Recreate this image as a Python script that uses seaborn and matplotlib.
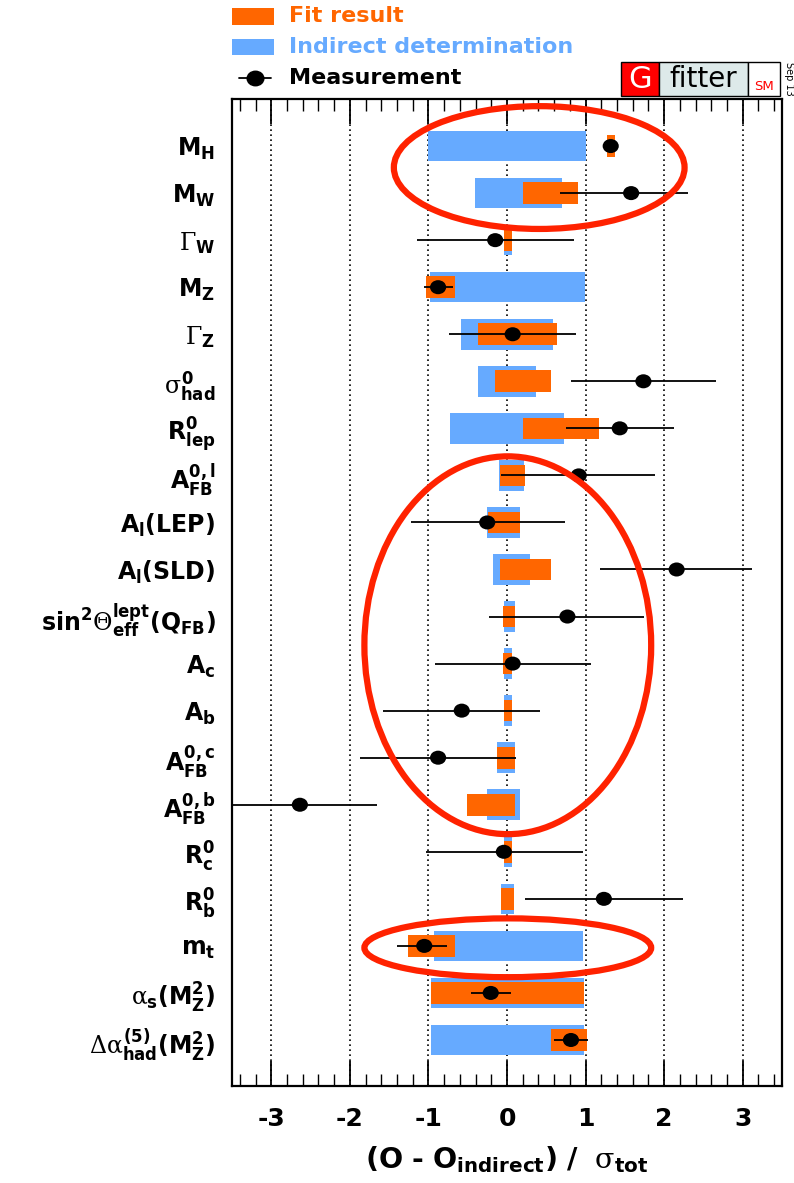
import matplotlib
matplotlib.use("Agg")
import matplotlib.pyplot as plt
import seaborn as sns
import numpy as np
import pandas as pd
from matplotlib.patches import Rectangle, Ellipse
from matplotlib.lines import Line2D
from matplotlib.path import Path
from matplotlib.ticker import MultipleLocator

# ---------------- data ----------------
labels = [
    r'$\mathbf{M_{H}}$',
    r'$\mathbf{M_{W}}$',
    r'$\Gamma_{\mathbf{W}}$',
    r'$\mathbf{M_{Z}}$',
    r'$\Gamma_{\mathbf{Z}}$',
    r'$\sigma^{\mathbf{0}}_{\mathbf{had}}$',
    r'$\mathbf{R^{0}_{lep}}$',
    r'$\mathbf{A^{0,l}_{FB}}$',
    r'$\mathbf{A_{l}(LEP)}$',
    r'$\mathbf{A_{l}(SLD)}$',
    r'$\mathbf{sin^{2}}\Theta^{\mathbf{lept}}_{\mathbf{eff}}\mathbf{(Q_{FB})}$',
    r'$\mathbf{A_{c}}$',
    r'$\mathbf{A_{b}}$',
    r'$\mathbf{A^{0,c}_{FB}}$',
    r'$\mathbf{A^{0,b}_{FB}}$',
    r'$\mathbf{R^{0}_{c}}$',
    r'$\mathbf{R^{0}_{b}}$',
    r'$\mathbf{m_{t}}$',
    r'$\alpha_{\mathbf{s}}\mathbf{(M^{2}_{Z})}$',
    r'$\Delta\alpha^{\mathbf{(5)}}_{\mathbf{had}}\mathbf{(M^{2}_{Z})}$',
]
indirect_lo = [-1.00, -0.41, -0.04, -0.985, -0.585, -0.369, -0.72, -0.103, -0.256, -0.18,
               -0.04, -0.04, -0.04, -0.13, -0.256, -0.04, -0.081, -0.931, -0.972, -0.972]
indirect_hi = [1.00, 0.70, 0.06, 0.99, 0.589, 0.373, 0.729, 0.211, 0.171, 0.297,
               0.108, 0.058, 0.058, 0.099, 0.171, 0.058, 0.085, 0.967, 0.981, 0.981]
fit_lo = [1.27, 0.20, -0.04, -1.026, -0.369, -0.153, 0.198, -0.09, -0.247, -0.09,
          -0.054, -0.054, -0.04, -0.13, -0.508, -0.04, -0.081, -1.264, -0.972, 0.562]
fit_hi = [1.37, 0.90, 0.06, -0.657, 0.639, 0.562, 1.17, 0.225, 0.171, 0.562,
          0.108, 0.058, 0.058, 0.099, 0.108, 0.058, 0.085, -0.657, 0.981, 1.017]
meas = [1.32, 1.58, -0.15, -0.877, 0.072, 1.736, 1.435, 0.913, -0.252, 2.159,
        0.769, 0.072, -0.576, -0.877, -2.636, -0.04, 1.233, -1.053, -0.207, 0.814]
meas_lo = [1.30, 0.67, -1.15, -1.06, -0.733, 0.81, 0.751, -0.081, -1.219, 1.183,
           -0.229, -0.922, -1.579, -1.867, -3.60, -1.03, 0.234, -1.40, -0.454, 0.603]
meas_hi = [1.34, 2.30, 0.855, -0.69, 0.882, 2.66, 2.12, 1.885, 0.733, 3.12,
           1.745, 1.075, 0.418, 0.112, -1.655, 0.967, 2.236, -0.765, 0.045, 1.035]
xticks = [-3, -2, -1, 0, 1, 2, 3]

ORANGE = '#ff6600'
BLUE = '#66aaff'
RED = '#ff2200'

df = pd.DataFrame(dict(label=labels, row=np.arange(len(labels)),
                       ind_lo=indirect_lo, ind_hi=indirect_hi,
                       fit_lo=fit_lo, fit_hi=fit_hi,
                       meas=meas, mlo=meas_lo, mhi=meas_hi))

# ---------------- style ----------------
sns.set_theme(style='white')
plt.rcParams['font.family'] = ['DejaVu Sans']
plt.rcParams['font.weight'] = 'normal'
plt.rcParams['text.color'] = 'black'
plt.rcParams['xtick.color'] = 'black'
plt.rcParams['ytick.color'] = 'black'
plt.rcParams['xtick.labelcolor'] = 'black'
plt.rcParams['ytick.labelcolor'] = 'black'
plt.rcParams['axes.labelcolor'] = 'black'
plt.rcParams['mathtext.fontset'] = 'custom'
plt.rcParams['mathtext.bf'] = 'DejaVu Sans:bold'
plt.rcParams['mathtext.rm'] = 'DejaVu Serif'
plt.rcParams['mathtext.it'] = 'DejaVu Serif'
plt.rcParams['mathtext.sf'] = 'DejaVu Sans'
plt.rcParams['axes.unicode_minus'] = False

W, H = 794, 1183
fig = plt.figure(figsize=(W / 100, H / 100), dpi=100)
ax_l, ax_r, ax_t, ax_b = 232, 782, 99, 1086
ax = fig.add_axes([ax_l / W, 1 - ax_b / H, (ax_r - ax_l) / W, (ax_b - ax_t) / H])

# slightly wide elliptical marker (as in the reference)
circ = Path.unit_circle()
oval = Path(circ.vertices * np.array([1.0, 0.87]), circ.codes)

# grid lines
for xv in xticks:
    ax.axvline(xv, color='black', lw=1.2, ls=(0, (1, 2)), zorder=0)

# bars
ax.barh(df['row'], df['ind_hi'] - df['ind_lo'], left=df['ind_lo'], height=0.65,
        color=BLUE, zorder=1, linewidth=0)
ax.barh(df['row'], df['fit_hi'] - df['fit_lo'], left=df['fit_lo'], height=0.46,
        color=ORANGE, zorder=2, linewidth=0)

# measurements
ax.hlines(df['row'], df['mlo'], df['mhi'], color='black', lw=1.3, zorder=4)
sns.scatterplot(data=df, x='meas', y='row', ax=ax, color='black', s=135, marker=oval,
                edgecolor='none', zorder=5, legend=False)

# ellipse annotations
for cx, cy, w, h in [(0.41, 0.457, 3.70, 2.61), (0.01, 10.61, 3.65, 8.03), (0.01, 17.04, 3.65, 1.25)]:
    ax.add_patch(Ellipse((cx, cy), w, h, fill=False, edgecolor=RED, lw=4.5, zorder=6))

ax.set_xlim(-3.5, 3.5)
ax.set_ylim(19 + 46 / 47.04, -1.0)
ax.set_xticks(xticks)
ax.set_xticklabels([str(v) for v in xticks], fontsize=18, fontweight='bold', color='black')
ax.xaxis.set_minor_locator(MultipleLocator(0.2))
ax.tick_params(axis='x', which='major', direction='in', length=18, width=1.3,
               top=True, bottom=True, pad=15, color='black')
ax.tick_params(axis='x', which='minor', direction='in', length=8.5, width=1.0,
               top=True, bottom=True, color='black')
ax.set_yticks(df['row'])
ax.set_yticklabels(labels, fontsize=17, color='black')
ax.tick_params(axis='y', length=0, pad=12)
ax.set_ylabel('')
ax.set_xlabel('$\\mathbf{(O\\ \u2010\\ O_{indirect})\\ /\\ \\ }\\sigma_{\\mathbf{tot}}$',
              fontsize=20.5, color='black')
ax.xaxis.set_label_coords(0.5, -(1160 - ax_b) / (ax_b - ax_t))
ax.xaxis.label.set_va('center')
for sp in ax.spines.values():
    sp.set_color('black')
    sp.set_linewidth(1.6)
    sp.set_visible(True)

# ---------------- legend (manual) ----------------
def fx(x):
    return x / W

def fy(y):
    return 1 - y / H

fig.add_artist(Rectangle((fx(232), fy(25)), fx(42), 17 / H, transform=fig.transFigure,
                         color=ORANGE, lw=0))
fig.add_artist(Rectangle((fx(232), fy(55)), fx(42), 16 / H, transform=fig.transFigure,
                         color=BLUE, lw=0))
fig.add_artist(Line2D([fx(239), fx(271)], [fy(78), fy(78)], transform=fig.transFigure,
                      color='black', lw=1.3))
fig.add_artist(Line2D([fx(255)], [fy(78)], transform=fig.transFigure, marker=oval,
                      markersize=12, color='black', lw=0))
fig.text(fx(289), fy(16), 'Fit result', color=ORANGE, fontsize=16, fontweight='bold', va='center')
fig.text(fx(289), fy(47), 'Indirect determination', color=BLUE, fontsize=16,
         fontweight='bold', va='center')
fig.text(fx(289), fy(78), 'Measurement', color='black', fontsize=16, fontweight='bold', va='center')

# Gfitter logo
ly0, ly1 = 62, 96
fig.add_artist(Rectangle((fx(621), fy(ly1)), fx(38), (ly1 - ly0) / H, transform=fig.transFigure,
                         facecolor='#ff0000', edgecolor='black', lw=1))
fig.add_artist(Rectangle((fx(659), fy(ly1)), fx(89), (ly1 - ly0) / H, transform=fig.transFigure,
                         facecolor='#dde9e9', edgecolor='black', lw=1))
fig.add_artist(Rectangle((fx(748), fy(ly1)), fx(32), (ly1 - ly0) / H, transform=fig.transFigure,
                         facecolor='white', edgecolor='black', lw=1))
fig.text(fx(640), fy(79), 'G', color='white', fontsize=22, ha='center', va='center')
fig.text(fx(703), fy(79), 'fitter', color='black', fontsize=20, ha='center', va='center')
fig.text(fx(764), fy(87), 'SM', color='#ff0000', fontsize=9.5, ha='center', va='center')
fig.text(fx(789), fy(79), 'Sep 13', color='black', fontsize=7, ha='center', va='center',
         rotation=270)

fig.savefig('out.png', dpi=100)
